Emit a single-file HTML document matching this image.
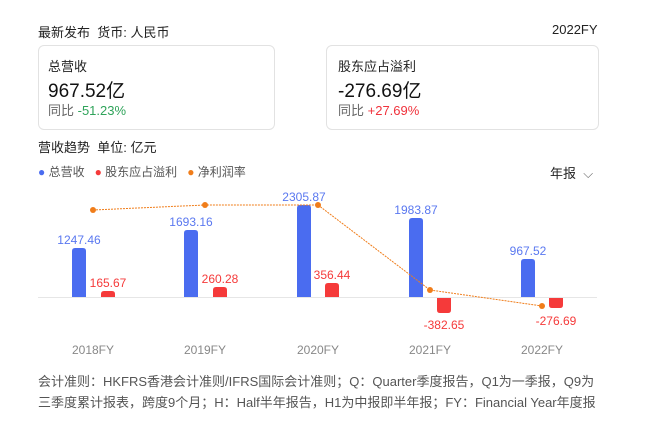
<!DOCTYPE html>
<html><head><meta charset="utf-8"><style>
body{margin:0;width:645px;height:430px;background:#fff;font-family:"Liberation Sans","Noto Sans CJK SC",sans-serif;position:relative;overflow:hidden;color:#222}
.a{position:absolute;white-space:nowrap}
.card{position:absolute;border:1px solid #e2e2e2;border-radius:6px;background:#fff}
</style></head><body>
<div class="a" style="left:38px;top:22px;font-size:13px;color:#222">最新发布&nbsp; 货币: 人民币</div>
<div class="a" style="left:552px;top:22px;font-size:13px;color:#222">2022FY</div>
<div class="card" style="left:38px;top:45px;width:235px;height:83px"></div>
<div class="card" style="left:326px;top:45px;width:271px;height:83px"></div>
<div class="a" style="left:48px;top:56px;font-size:13px">总营收</div>
<div class="a" style="left:48px;top:76px;font-size:19px;color:#111">967.52亿</div>
<div class="a" style="left:48px;top:100px;font-size:13px;color:#666">同比 <span style="color:#2fa35a">-51.23%</span></div>
<div class="a" style="left:338px;top:56px;font-size:13px">股东应占溢利</div>
<div class="a" style="left:338px;top:76px;font-size:19px;color:#111">-276.69亿</div>
<div class="a" style="left:338px;top:100px;font-size:13px;color:#666">同比 <span style="color:#f0323c">+27.69%</span></div>
<div class="a" style="left:38px;top:137px;font-size:13px">营收趋势&nbsp; 单位: 亿元</div>
<div class="a" style="left:38px;top:163px;font-size:12px;color:#555"><span style="color:#4a6cf0">●</span> 总营收&nbsp;&nbsp; <span style="color:#f53a3a">●</span> 股东应占溢利&nbsp;&nbsp; <span style="color:#f07d1a">●</span> 净利润率</div>
<div class="a" style="left:550px;top:163px;font-size:13px">年报&nbsp; <span style="color:#666">⌵</span></div>
<svg class="a" style="left:0;top:0" width="645" height="430" font-family="Liberation Sans, sans-serif" font-size="12">
<line x1="38" y1="297.5" x2="597" y2="297.5" stroke="#e6e6e6"/>
<g fill="#4a6cf0">
<path d="M72 297V251q0-3 3-3h8q3 0 3 3V297z"/>
<path d="M184 297V233q0-3 3-3h8q3 0 3 3V297z"/>
<path d="M297 297V208q0-3 3-3h8q3 0 3 3V297z"/>
<path d="M409 297V221q0-3 3-3h8q3 0 3 3V297z"/>
<path d="M521 297V262q0-3 3-3h8q3 0 3 3V297z"/>
</g>
<g fill="#f53a3a">
<path d="M101 297V294q0-3 3-3h8q3 0 3 3V297z"/>
<path d="M213 297V290q0-3 3-3h8q3 0 3 3V297z"/>
<path d="M325 297V286q0-3 3-3h8q3 0 3 3V297z"/>
<path d="M437 298V310q0 3 3 3h8q3 0 3-3V298z"/>
<path d="M549 298V305q0 3 3 3h8q3 0 3-3V298z"/>
</g>
<polyline points="93,210 205,205 318,205 430,290 542,306" fill="none" stroke="#f07d1a" stroke-width="1" stroke-dasharray="2,1"/>
<g fill="#f07d1a"><circle cx="93" cy="210" r="3"/><circle cx="205" cy="205" r="3"/><circle cx="318" cy="205" r="3"/><circle cx="430" cy="290" r="3"/><circle cx="542" cy="306" r="3"/></g>
<g fill="#5a78f0" text-anchor="middle">
<text x="79" y="244">1247.46</text><text x="191" y="226">1693.16</text><text x="304" y="201">2305.87</text><text x="416" y="214">1983.87</text><text x="528" y="255">967.52</text>
</g>
<g fill="#f53a3a" text-anchor="middle">
<text x="108" y="287">165.67</text><text x="220" y="283">260.28</text><text x="332" y="279">356.44</text><text x="444" y="329">-382.65</text><text x="556" y="325">-276.69</text>
</g>
<g fill="#888" text-anchor="middle">
<text x="93" y="354">2018FY</text><text x="205" y="354">2019FY</text><text x="318" y="354">2020FY</text><text x="430" y="354">2021FY</text><text x="542" y="354">2022FY</text>
</g>
</svg>
<div class="a" style="left:38px;top:371px;font-size:13px;color:#555">会计准则：HKFRS香港会计准则/IFRS国际会计准则；Q：Quarter季度报告，Q1为一季报，Q9为</div>
<div class="a" style="left:38px;top:392px;font-size:13px;color:#555">三季度累计报表，跨度9个月；H：Half半年报告，H1为中报即半年报；FY：Financial Year年度报</div>
</body></html>
